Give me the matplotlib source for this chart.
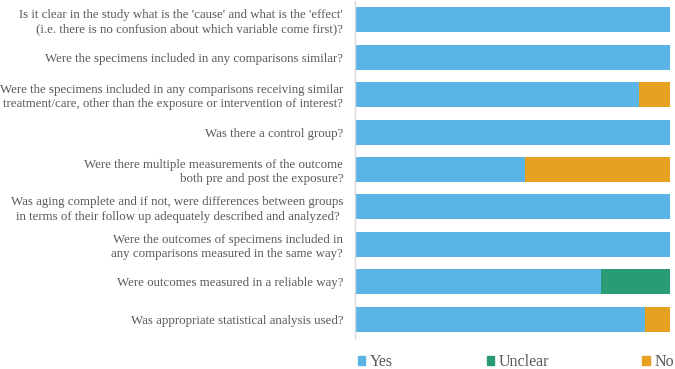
import matplotlib
matplotlib.use("Agg")
import matplotlib.pyplot as plt
from matplotlib.patches import Patch

questions = [
    "Is it clear in the study what is the 'cause' and what is the 'effect'\n(i.e. there is no confusion about which variable come first)?",
    "Were the specimens included in any comparisons similar?",
    "Were the specimens included in any comparisons receiving similar\ntreatment/care, other than the exposure or intervention of interest?",
    "Was there a control group?",
    "Were there multiple measurements of the outcome\nboth pre and post the exposure?",
    "Was aging complete and if not, were differences between groups\nin terms of their follow up adequately described and analyzed? ",
    "Were the outcomes of specimens included in\nany comparisons measured in the same way?",
    "Were outcomes measured in a reliable way?",
    "Was appropriate statistical analysis used?",
]
yes = [100, 100, 90, 100, 54, 100, 100, 78, 92]
unclear = [0, 0, 0, 0, 0, 0, 0, 22, 0]
no = [0, 0, 10, 0, 46, 0, 0, 0, 8]

c_yes = "#5BB4E6"
c_unc = "#2A9C73"
c_no = "#E5A11F"
txt = "#595959"

fig = plt.figure(figsize=(6.75, 3.69), dpi=100)
ax = fig.add_axes([355/675, 1-338/369, 315/675, 337/369])

y = list(range(len(questions)))
h = 0.667
ax.barh(y, yes, height=h, color=c_yes, label="Yes")
ax.barh(y, unclear, left=yes, height=h, color=c_unc, label="Unclear")
left3 = [a + b for a, b in zip(yes, unclear)]
ax.barh(y, no, left=left3, height=h, color=c_no, label="No")

ax.set_xlim(0, 100)
ax.set_ylim(len(questions) - 0.5, -0.5)
ax.set_yticks(y)
ax.set_yticklabels(questions, fontsize=9.3, color=txt, family='Liberation Serif',
                   ha='right', multialignment='right', linespacing=1.25)
ax.tick_params(axis='y', length=0, pad=8.5)
ax.set_xticks([])
for s in ['top', 'right', 'bottom']:
    ax.spines[s].set_visible(False)
ax.spines['left'].set_color('#D9D9D9')
ax.spines['left'].set_linewidth(1.0)

handles = [Patch(color=c_yes, label="Yes"), Patch(color=c_unc, label="Unclear"),
           Patch(color=c_no, label="No")]
leg = fig.legend(handles=handles, loc='center', bbox_to_anchor=(516/675, 1-362/369),
                 ncol=3, frameon=False, handlelength=0.45, handleheight=0.45,
                 handletextpad=0.3, columnspacing=5.85, borderpad=0.0,
                 prop={'family': 'Liberation Serif', 'size': 11.5})
for t in leg.get_texts():
    t.set_color(txt)

fig.savefig("out.png", dpi=100)
